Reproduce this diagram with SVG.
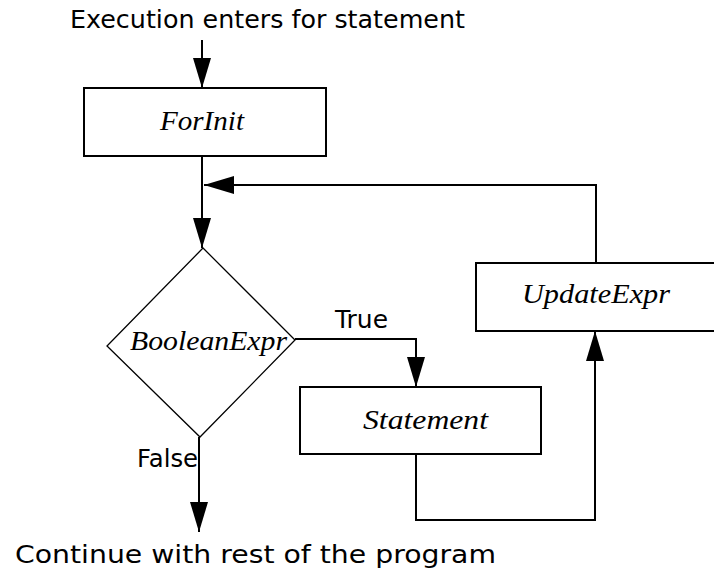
<svg xmlns="http://www.w3.org/2000/svg" width="714" height="571" viewBox="0 0 714 571">
<style>
.sans{font-family:"DejaVu Sans","Liberation Sans",sans-serif;font-size:24px;fill:#000}
.it{font-family:"Liberation Serif","DejaVu Serif",serif;font-style:italic;font-size:28px;fill:#000}
.box{fill:#fff;stroke:#000;stroke-width:2}
.dia{fill:#fff;stroke:#000;stroke-width:1.3}
.conn{fill:none;stroke:#000;stroke-width:2}
</style>
<defs>
<marker id="ah" markerUnits="userSpaceOnUse" markerWidth="30" markerHeight="18" refX="30" refY="9" orient="auto">
<path d="M0,0 L30,9 L0,18 z" fill="#000"/>
</marker>
</defs>
<rect width="714" height="571" fill="#fff"/>
<g id="labels">
<text class="sans" x="70" y="28" textLength="395" lengthAdjust="spacingAndGlyphs">Execution enters for statement</text>
<text class="sans" x="15" y="563" textLength="481" lengthAdjust="spacingAndGlyphs">Continue with rest of the program</text>
<text class="sans" x="335" y="328" textLength="53" lengthAdjust="spacingAndGlyphs">True</text>
<text class="sans" x="137" y="467" textLength="61" lengthAdjust="spacingAndGlyphs">False</text>
</g>
<g id="connectors">
<path class="conn" d="M202,40 V88" marker-end="url(#ah)"/>
<path class="conn" d="M202,156 V248" marker-end="url(#ah)"/>
<path class="conn" d="M596,263 V185 H204" marker-end="url(#ah)"/>
<path class="conn" d="M295,339 H416 V387" marker-end="url(#ah)"/>
<path class="conn" d="M416,454 V520 H595 V331" marker-end="url(#ah)"/>
<path class="conn" d="M199,437 V532" marker-end="url(#ah)"/>
</g>
<g id="forinit">
<rect class="box" x="84" y="88" width="242" height="68"/>
<text class="it" x="160" y="130" textLength="84" lengthAdjust="spacingAndGlyphs">ForInit</text>
</g>
<g id="booleanexpr">
<polygon class="dia" points="203,248 295,340 200,437 107,346"/>
<text class="it" x="130" y="350" textLength="157" lengthAdjust="spacingAndGlyphs">BooleanExpr</text>
</g>
<g id="statement">
<rect class="box" x="300" y="387" width="241" height="67"/>
<text class="it" x="363" y="429" textLength="125" lengthAdjust="spacingAndGlyphs">Statement</text>
</g>
<g id="updateexpr">
<rect class="box" x="476" y="263" width="250" height="68"/>
<text class="it" x="522" y="303" textLength="148" lengthAdjust="spacingAndGlyphs">UpdateExpr</text>
</g>
</svg>
